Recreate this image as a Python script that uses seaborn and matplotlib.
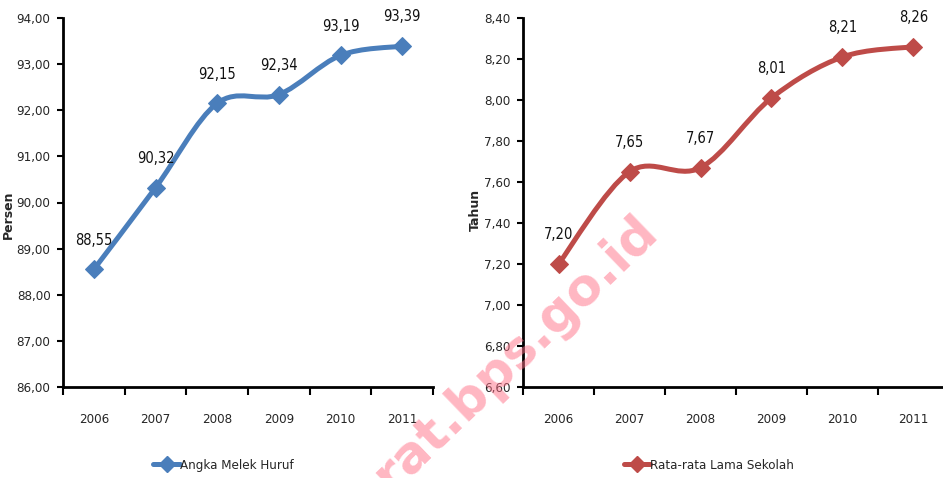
import numpy as np
import pandas as pd
import matplotlib
matplotlib.use("Agg")
import matplotlib.pyplot as plt
import seaborn as sns
from matplotlib.path import Path
from matplotlib.patches import PathPatch
from matplotlib.lines import Line2D
from matplotlib.ticker import FixedLocator, FuncFormatter, NullFormatter

# --- data -------------------------------------------------------------
years = ["2006", "2007", "2008", "2009", "2010", "2011"]
melek_huruf = [88.55, 90.32, 92.15, 92.34, 93.19, 93.39]      # Angka Melek Huruf (%)
lama_sekolah = [7.20, 7.65, 7.67, 8.01, 8.21, 8.26]            # Rata-rata Lama Sekolah (tahun)

blue = "#4A7EBB"
red = "#BE4B48"

sns.set_theme(style="white")
plt.rcParams["font.family"] = ["Liberation Sans Narrow", "DejaVu Sans"]
plt.rcParams["font.stretch"] = "condensed"

FS = 9.5
W, H = 943, 478
fig = plt.figure(figsize=(W / 100, H / 100), dpi=100)


def comma(v, dec=2):
    return f"{v:.{dec}f}".replace(".", ",")


def smooth_path(xs, ys):
    """Cardinal (Catmull-Rom) bezier through the data points."""
    pts = np.column_stack([xs, ys]).astype(float)
    n = len(pts)
    verts = [pts[0]]
    codes = [Path.MOVETO]
    for i in range(n - 1):
        p0 = pts[i - 1] if i > 0 else pts[i]
        p1, p2 = pts[i], pts[i + 1]
        p3 = pts[i + 2] if i + 2 < n else pts[i + 1]
        verts += [p1 + (p2 - p0) / 6, p2 - (p3 - p1) / 6, p2]
        codes += [Path.CURVE4] * 3
    return Path(verts, codes)


def panel(rect, values, color, ylim, yticks, ylabel, label_xy, legend_label, legend_x):
    ax = fig.add_axes(rect)
    df = pd.DataFrame({"tahun": years, "nilai": values})
    pos = np.arange(len(years))

    # smoothed line
    ax.add_patch(PathPatch(smooth_path(pos, values), facecolor="none",
                           edgecolor=color, lw=3.6, capstyle="round",
                           joinstyle="round", zorder=3))
    # diamond markers
    sns.lineplot(data=df, x="tahun", y="nilai", ax=ax, color=color,
                 marker="D", markersize=9, linewidth=0, markeredgecolor=color,
                 legend=False, zorder=4)

    for i, v in enumerate(values):
        ax.annotate(comma(v), (i, v), xytext=(0, 21), textcoords="offset points",
                    ha="center", va="center", fontsize=FS + 1, color="#111111")

    ax.set_xlim(-0.5, len(years) - 0.5)
    ax.set_ylim(*ylim)
    ax.yaxis.set_major_locator(FixedLocator(yticks))
    ax.yaxis.set_major_formatter(FuncFormatter(lambda v, p: comma(v)))
    ax.xaxis.set_major_locator(FixedLocator(np.arange(-0.5, len(years), 1.0)))
    ax.xaxis.set_major_formatter(NullFormatter())
    ax.set_xticks(pos, years, minor=True)

    ax.tick_params(axis="y", which="major", direction="out", length=4, width=1.5,
                   color="black", labelsize=FS, pad=5, left=True)
    ax.tick_params(axis="x", which="major", direction="out", length=6, width=1.5,
                   color="black", bottom=True)
    ax.tick_params(axis="x", which="minor", length=0, labelsize=FS, pad=19)

    for s in ("top", "right"):
        ax.spines[s].set_visible(False)
    for s in ("left", "bottom"):
        ax.spines[s].set_color("black")
        ax.spines[s].set_linewidth(2)

    ax.set_xlabel("")
    ax.set_ylabel(ylabel, fontsize=9, fontweight="bold", family="DejaVu Sans",
                  fontstretch="normal")
    ax.yaxis.set_label_coords(*label_xy)

    handle = Line2D([], [], color=color, lw=3.6, marker="D", markersize=8,
                    markeredgecolor=color)
    fig.legend([handle], [legend_label], loc="center", bbox_to_anchor=(legend_x, 0.027),
               frameon=False, fontsize=FS, handlelength=2.0, handletextpad=0.0)
    return ax


panel([63 / W, 1 - 387 / H, 370 / W, 369 / H], melek_huruf, blue,
      (86, 94), np.arange(86, 94.01, 1.0), "Persen", (-0.13, 0.466),
      "Angka Melek Huruf", 0.237)

panel([523 / W, 1 - 387 / H, 426 / W, 369 / H], lama_sekolah, red,
      (6.6, 8.4), np.round(np.arange(6.6, 8.41, 0.2), 2), "Tahun", (-0.097, 0.48),
      "Rata-rata Lama Sekolah", 0.752)

# watermark
fig.text(0.547, 0.262, "rat.bps.go.id", rotation=44, rotation_mode="anchor",
         ha="center", va="center", fontsize=37, fontweight="bold",
         family="DejaVu Sans", fontstretch="normal", color="#FF6F86", alpha=0.5,
         zorder=10)

fig.savefig("out.png", dpi=100)
